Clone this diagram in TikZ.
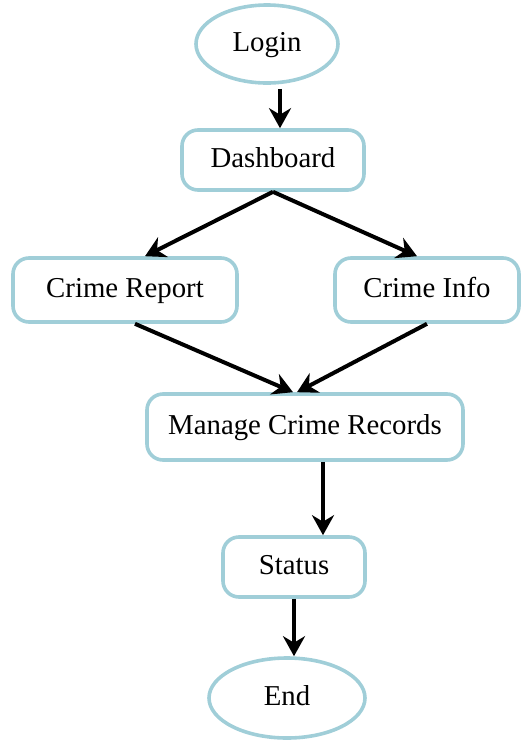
\documentclass[tikz,border=0pt]{standalone}
\usepackage{fontspec}
\setmainfont{Liberation Serif}
\usetikzlibrary{arrows.meta, shapes.geometric}
\definecolor{edgeblue}{RGB}{160,206,216}

\begin{document}
\begin{tikzpicture}[x = 0.5pt, y = -0.5pt, > = {Stealth[length=10pt, width=11pt]}, line width = 2pt,
    every node/.style = {draw = edgeblue, line width = 1.8pt, font = \fontsize{14.4}{17}\selectfont, inner sep = 0pt, text height = 10pt, text depth = 3pt},
    term/.style = {ellipse},
    proc/.style = {rectangle, rounded corners = 8pt},
    flow/.style = {->, black}]
    \useasboundingbox (0, 0) rectangle (525, 740);
    \node[term, minimum width = 71pt, minimum height = 39pt] (log) at (267, 44) {Login};
    \node[proc, minimum width = 91pt, minimum height = 30pt] (dash) at (273, 160) {Dashboard};
    \node[proc, minimum width = 112pt, minimum height = 32pt] (crep) at (125, 290) {Crime Report};
    \node[proc, minimum width = 92pt, minimum height = 32pt] (cinf) at (427, 290) {Crime Info};
    \node[proc, minimum width = 158pt, minimum height = 33pt] (mng) at (305, 427) {Manage Crime Records};
    \node[proc, minimum width = 71pt, minimum height = 30pt] (stat) at (294, 567) {Status};
    \node[term, minimum width = 78pt, minimum height = 40pt] (end) at (287, 698) {End};
    \draw[flow, shorten < = 2pt] ([xshift=6.5pt]log.south) -- ([xshift=6.5pt]log.south |- dash.north);
    \draw[flow] (dash.south) -- ([xshift=10pt]crep.north);
    \draw[flow] (dash.south) -- ([xshift=-5pt]cinf.north);
    \draw[flow] ([xshift=5pt]crep.south) -- ([xshift=-6pt]mng.north);
    \draw[flow] (cinf.south) -- ([xshift=-4pt]mng.north);
    \draw[flow] ([xshift=9pt]mng.south) -- ([xshift=9pt]mng.south |- stat.north);
    \draw[flow] (stat.south) -- (stat.south |- end.north);
\end{tikzpicture}
\end{document}
